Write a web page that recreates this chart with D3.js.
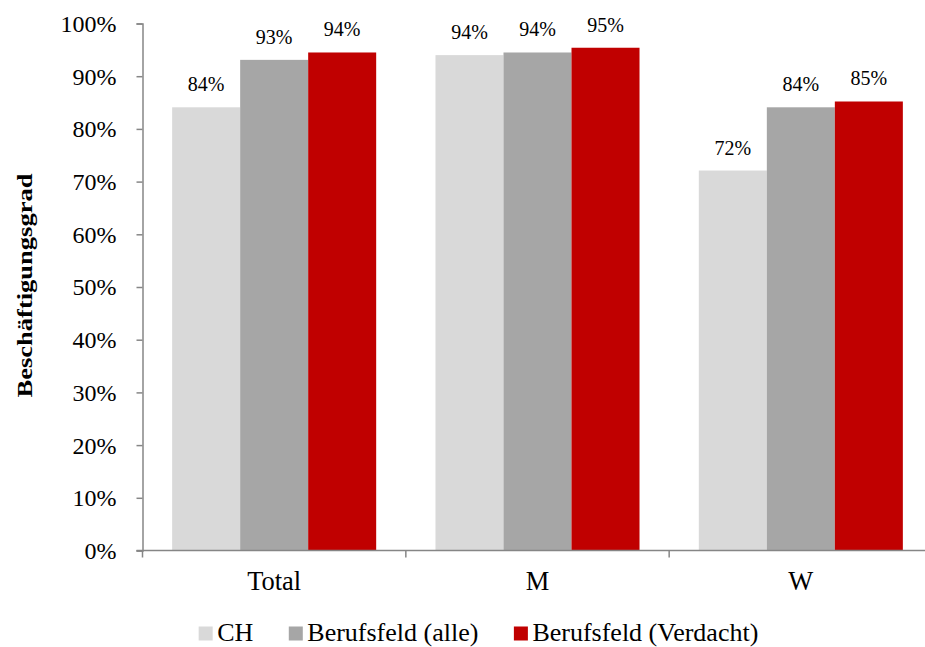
<!DOCTYPE html>
<html>
<head>
<meta charset="utf-8">
<script src="https://cdn.jsdelivr.net/npm/d3@7"></script>
<style>
  html, body { margin: 0; padding: 0; background: #fff; }
  svg text { font-family: "Liberation Serif", "Times New Roman", Times, serif !important; }
</style>
</head>
<body>
<svg id="chart" width="925" height="647"></svg>
<script>
const categories = ["Total", "M", "W"];
const seriesNames = ["CH", "Berufsfeld (alle)", "Berufsfeld (Verdacht)"];
const seriesColors = ["#d9d9d9", "#a6a6a6", "#c00000"];
const valuesCH = [0.841, 0.940, 0.721];
const valuesAlle = [0.931, 0.945, 0.841];
const valuesVerdacht = [0.945, 0.954, 0.852];
const valueLabels = [["84%", "93%", "94%"], ["94%", "94%", "95%"], ["72%", "84%", "85%"]];
const yTicks = [0, 0.1, 0.2, 0.3, 0.4, 0.5, 0.6, 0.7, 0.8, 0.9, 1.0];
const yTitle = "Beschäftigungsgrad";

const seriesValues = [valuesCH, valuesAlle, valuesVerdacht];
const svg = d3.select("#chart");
const axisColor = "#868686";
const FONT = "'Liberation Serif', 'Times New Roman', Times, serif";

const x0 = d3.scaleBand().domain(categories).range([142.5, 932.5]).paddingInner(0).paddingOuter(0);
const x1 = d3.scaleBand().domain(seriesNames).range([0, x0.bandwidth()]).paddingInner(0).paddingOuter(0.436);
const y = d3.scaleLinear().domain([0, 1]).range([550.5, 23.5]);

// bars
const groups = svg.append("g").selectAll("g")
  .data(categories)
  .join("g")
  .attr("transform", c => `translate(${x0(c)},0)`);

groups.selectAll("rect")
  .data((c, ci) => seriesNames.map((s, si) => ({ s, si, ci, v: seriesValues[si][ci] })))
  .join("rect")
  .attr("x", d => x1(d.s))
  .attr("width", x1.bandwidth())
  .attr("y", d => y(d.v))
  .attr("height", d => y(0) - y(d.v))
  .attr("fill", d => seriesColors[d.si]);

groups.selectAll("text")
  .data((c, ci) => seriesNames.map((s, si) => ({ s, si, ci, v: seriesValues[si][ci] })))
  .join("text")
  .attr("x", d => x1(d.s) + x1.bandwidth() / 2)
  .attr("y", d => y(d.v) - 16)
  .attr("text-anchor", "middle")
  .style("font-family", FONT)
  .style("font-size", "20px")
  .attr("fill", "#000")
  .text(d => valueLabels[d.ci][d.si]);

// y axis
const yAxis = d3.axisLeft(y).tickValues(yTicks).tickFormat(d3.format(".0%")).tickSize(6).tickPadding(20);
const gy = svg.append("g").attr("transform", "translate(142.5,0)").call(yAxis);
gy.attr("font-family", null).attr("font-size", null);
gy.select(".domain").attr("stroke", axisColor).attr("stroke-width", 1.5);
gy.selectAll(".tick line").attr("stroke", axisColor).attr("stroke-width", 1.5);
gy.selectAll(".tick text")
  .style("font-family", FONT)
  .style("font-size", "24px")
  .attr("fill", "#000")
  .attr("dy", "0.33em");

// x axis
const xBoundaries = categories.map(c => x0(c)).concat([x0(categories[categories.length - 1]) + x0.bandwidth()]);
const gx = svg.append("g");
gx.append("line")
  .attr("x1", x0.range()[0] - 6).attr("x2", x0.range()[1])
  .attr("y1", y(0)).attr("y2", y(0))
  .attr("stroke", axisColor).attr("stroke-width", 1.5);
gx.selectAll("line.tk")
  .data(xBoundaries)
  .join("line")
  .attr("class", "tk")
  .attr("x1", d => d).attr("x2", d => d)
  .attr("y1", y(0)).attr("y2", y(0) + 7)
  .attr("stroke", axisColor).attr("stroke-width", 1.5);
gx.selectAll("text")
  .data(categories)
  .join("text")
  .attr("x", c => x0(c) + x0.bandwidth() / 2)
  .attr("y", 590)
  .attr("text-anchor", "middle")
  .style("font-family", FONT)
  .style("font-size", "26.5px")
  .attr("fill", "#000")
  .text(c => c);

// y title
svg.append("text")
  .attr("transform", "translate(32,285.5) rotate(-90)")
  .attr("text-anchor", "middle")
  .style("font-family", FONT)
  .style("font-weight", "bold")
  .style("font-size", "21px")
  .attr("textLength", 224)
  .attr("lengthAdjust", "spacingAndGlyphs")
  .attr("fill", "#000")
  .text(yTitle);

// legend
const legend = svg.append("g");
const items = legend.selectAll("g").data(seriesNames).join("g");
items.append("rect")
  .attr("width", 14).attr("height", 14)
  .attr("y", 626.5)
  .attr("fill", (d, i) => seriesColors[i]);
items.append("text")
  .attr("x", 18.5)
  .attr("y", 641)
  .style("font-family", FONT)
  .style("font-size", "26px")
  .attr("fill", "#000")
  .text(d => d);
const gap = 35.5;
const widths = [];
items.each(function () { widths.push(18.5 + this.querySelector("text").getComputedTextLength()); });
const total = d3.sum(widths) + gap * (widths.length - 1);
let lx = 478.5 - total / 2;
items.each(function (d, i) {
  d3.select(this).attr("transform", `translate(${lx},0)`);
  lx += widths[i] + gap;
});
</script>
</body>
</html>
